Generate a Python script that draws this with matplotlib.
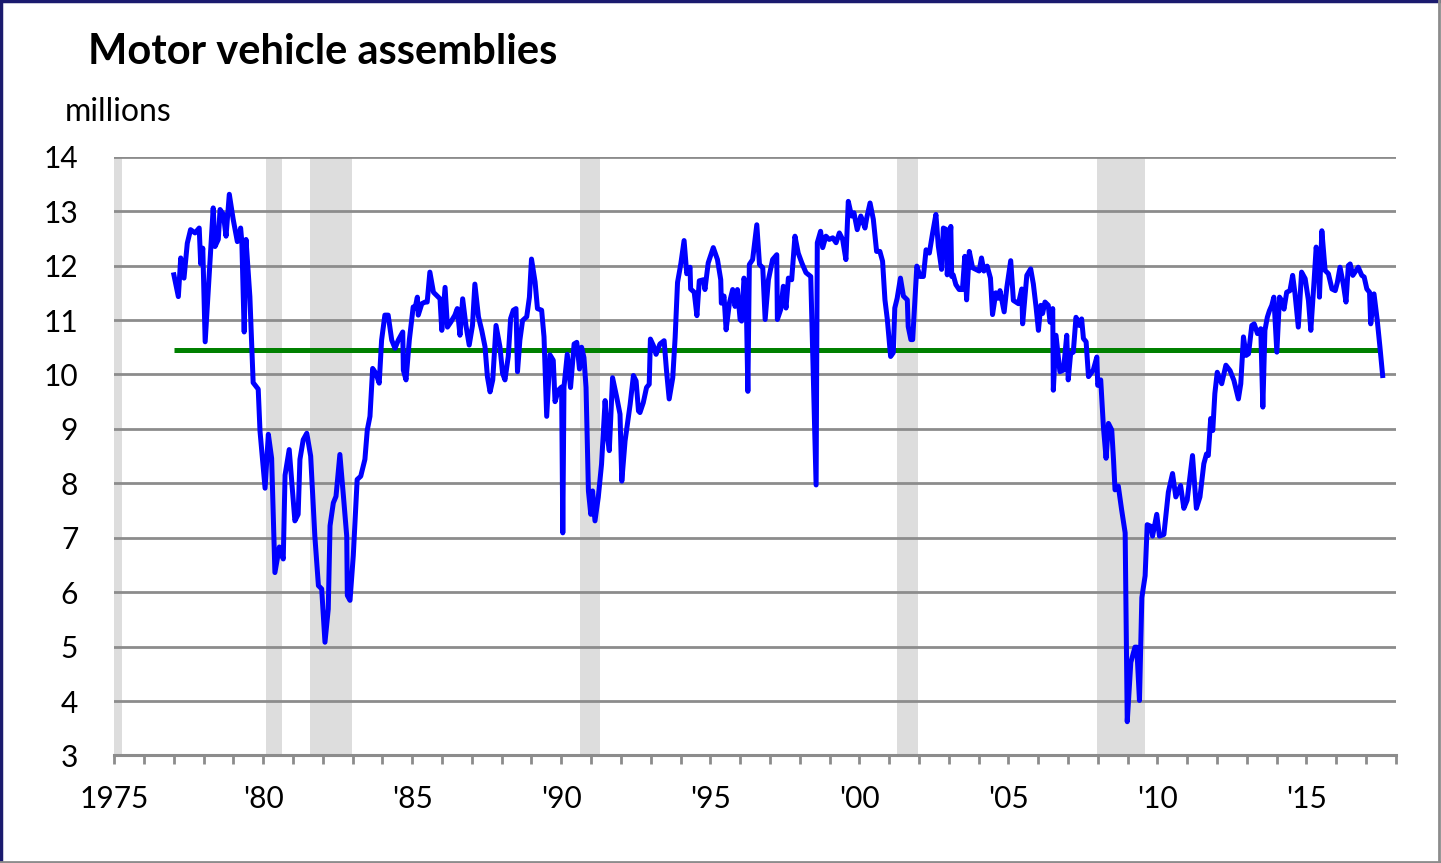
import matplotlib
matplotlib.use('agg')
import matplotlib.pyplot as plt
from matplotlib.lines import Line2D

plt.rcParams['font.family'] = ['Lato', 'DejaVu Sans']

# motor vehicle assemblies, millions (annual rate)
years = [
    1977.00, 1977.15, 1977.23, 1977.34, 1977.45, 1977.56, 1977.71, 1977.85, 1977.90, 1977.97,
    1978.05, 1978.32, 1978.38, 1978.49, 1978.55, 1978.66, 1978.75, 1978.86, 1978.99, 1979.13,
    1979.24, 1979.28, 1979.36, 1979.42, 1979.55, 1979.66, 1979.83, 1979.89, 1980.06, 1980.17,
    1980.28, 1980.39, 1980.54, 1980.67, 1980.73, 1980.87,
    1981.06, 1981.17, 1981.23, 1981.34, 1981.46, 1981.59, 1981.73, 1981.85, 1981.96, 1982.07,
    1982.18, 1982.24, 1982.35, 1982.44, 1982.57, 1982.69, 1982.80, 1982.82, 1982.91, 1983.02,
    1983.15, 1983.27, 1983.41, 1983.49, 1983.58, 1983.67, 1983.78, 1983.89, 1983.97, 1984.08,
    1984.19, 1984.31, 1984.42, 1984.53, 1984.68, 1984.70, 1984.79, 1984.90, 1985.03, 1985.09,
    1985.17, 1985.20, 1985.32, 1985.43, 1985.50,
    1985.59, 1985.71, 1985.82, 1985.93, 1985.99, 1986.10, 1986.18, 1986.29, 1986.43, 1986.51,
    1986.60, 1986.69, 1986.80, 1986.91, 1987.02, 1987.10, 1987.22, 1987.33, 1987.44, 1987.52,
    1987.61, 1987.70, 1987.81, 1987.94, 1988.03, 1988.11, 1988.22, 1988.30, 1988.39, 1988.48,
    1988.53, 1988.61, 1988.70, 1988.84, 1988.93, 1989.00, 1989.12, 1989.20, 1989.34, 1989.42,
    1989.51, 1989.62, 1989.73, 1989.79, 1989.90, 1990.01, 1990.05, 1990.09,
    1990.20, 1990.31, 1990.43, 1990.52, 1990.61, 1990.68, 1990.76, 1990.83, 1990.91, 1990.99,
    1991.05, 1991.13, 1991.24, 1991.35, 1991.47, 1991.55, 1991.61, 1991.72, 1991.86, 1991.97,
    1992.03, 1992.14, 1992.31, 1992.42, 1992.51, 1992.59, 1992.64, 1992.75, 1992.86, 1992.95,
    1992.99, 1993.09, 1993.18, 1993.31, 1993.45, 1993.53, 1993.62, 1993.74, 1993.82, 1993.90,
    1994.01, 1994.12, 1994.21, 1994.32, 1994.34, 1994.46, 1994.55, 1994.63,
    1994.77, 1994.82, 1994.93, 1995.10, 1995.24, 1995.35, 1995.37, 1995.46, 1995.53, 1995.64,
    1995.75, 1995.83, 1995.91, 1996.00, 1996.05, 1996.13, 1996.20, 1996.26, 1996.31, 1996.42,
    1996.56, 1996.65, 1996.76, 1996.84, 1996.95, 1997.09, 1997.23, 1997.25, 1997.36, 1997.45,
    1997.54, 1997.62, 1997.73, 1997.84, 1997.95, 1998.07, 1998.21, 1998.37, 1998.55, 1998.59,
    1998.70, 1998.77, 1998.88, 1998.99, 1999.11, 1999.22, 1999.33, 1999.44, 1999.55, 1999.63,
    1999.74, 1999.82, 1999.93, 2000.05, 2000.11, 2000.19, 2000.25, 2000.36,
    2000.47, 2000.58, 2000.69, 2000.78, 2000.86, 2000.94, 2001.05, 2001.14, 2001.19, 2001.27,
    2001.38, 2001.48, 2001.61, 2001.64, 2001.73, 2001.79, 2001.93, 2002.04, 2002.15, 2002.24,
    2002.35, 2002.46, 2002.57, 2002.65, 2002.76, 2002.82, 2002.93, 2002.95, 2003.07, 2003.10,
    2003.15, 2003.24, 2003.35, 2003.46, 2003.54, 2003.60, 2003.69, 2003.80, 2003.91, 2004.02,
    2004.10, 2004.18, 2004.29, 2004.40, 2004.47, 2004.58, 2004.66,
    2004.72, 2004.86, 2004.95, 2005.08, 2005.17, 2005.34, 2005.45, 2005.48, 2005.62, 2005.75,
    2005.84, 2005.93, 2006.01, 2006.09, 2006.15, 2006.23, 2006.34, 2006.40, 2006.49, 2006.51,
    2006.60, 2006.73, 2006.85, 2006.96, 2007.01, 2007.09, 2007.18, 2007.27, 2007.38, 2007.46,
    2007.52, 2007.61, 2007.69, 2007.85, 2007.97, 2008.00, 2008.10, 2008.19, 2008.28, 2008.36,
    2008.47, 2008.53, 2008.58, 2008.69, 2008.80, 2008.92, 2008.99, 2009.11, 2009.25, 2009.31,
    2009.40, 2009.48, 2009.59, 2009.66, 2009.78, 2009.84, 2009.98, 2010.07, 2010.22,
    2010.37, 2010.51, 2010.62, 2010.78, 2010.89, 2011.00, 2011.18, 2011.31, 2011.43, 2011.56,
    2011.65, 2011.71, 2011.79, 2011.86, 2011.93, 2012.01, 2012.16, 2012.30, 2012.44, 2012.57,
    2012.72, 2012.80, 2012.89, 2012.98, 2013.06, 2013.17, 2013.25, 2013.36, 2013.47, 2013.54,
    2013.61, 2013.69, 2013.76, 2013.84, 2013.91, 2014.01, 2014.10, 2014.17, 2014.25, 2014.34,
    2014.45, 2014.54, 2014.62, 2014.73, 2014.84, 2014.96, 2015.07, 2015.15, 2015.26, 2015.33,
    2015.41, 2015.44, 2015.52, 2015.63, 2015.74, 2015.86, 2015.97, 2016.04, 2016.13, 2016.24,
    2016.33, 2016.41, 2016.47, 2016.56, 2016.67, 2016.74, 2016.86, 2016.94, 2017.03, 2017.12,
    2017.16, 2017.27, 2017.38, 2017.47, 2017.56,
]
units = [
    11.83, 11.43, 12.14, 11.77, 12.41, 12.66, 12.60, 12.69, 12.03, 12.32,
    10.60, 13.06, 12.35, 12.48, 13.03, 12.94, 12.54, 13.31, 12.85, 12.44,
    12.69, 12.44, 10.78, 12.48, 11.43, 9.85, 9.73, 8.96, 7.91, 8.90,
    8.46, 6.36, 6.83, 6.61, 8.15, 8.62,
    7.31, 7.43, 8.44, 8.80, 8.92, 8.50, 7.03, 6.12, 6.06, 5.08,
    5.69, 7.22, 7.64, 7.76, 8.53, 7.76, 7.03, 5.94, 5.85, 6.67,
    8.07, 8.13, 8.44, 8.98, 9.23, 10.11, 10.02, 9.84, 10.63, 11.09,
    11.09, 10.63, 10.48, 10.63, 10.78, 10.08, 9.90, 10.63, 11.24, 11.21,
    11.42, 11.09, 11.30, 11.33, 11.33,
    11.88, 11.51, 11.45, 11.39, 10.81, 11.60, 10.87, 10.96, 11.09, 11.21,
    10.72, 11.39, 10.90, 10.54, 10.90, 11.66, 11.06, 10.81, 10.51, 9.96,
    9.68, 9.90, 10.90, 10.51, 10.02, 9.90, 10.33, 11.03, 11.18, 11.21,
    10.05, 10.63, 10.99, 11.06, 11.42, 12.12, 11.70, 11.21, 11.18, 10.69,
    9.23, 10.36, 10.26, 9.50, 9.71, 9.77, 7.09, 9.77,
    10.37, 9.76, 10.56, 10.59, 10.10, 10.50, 10.31, 9.76, 7.86, 7.43,
    7.86, 7.31, 7.74, 8.35, 9.52, 8.84, 8.60, 9.94, 9.58, 9.27,
    8.04, 8.78, 9.45, 9.98, 9.88, 9.33, 9.30, 9.48, 9.76, 9.82,
    10.65, 10.53, 10.37, 10.56, 10.62, 10.07, 9.55, 9.94, 10.68, 11.69,
    12.03, 12.46, 11.85, 11.97, 11.57, 11.51, 11.08, 11.72,
    11.74, 11.56, 12.05, 12.33, 12.11, 11.74, 11.31, 11.44, 10.82, 11.31,
    11.56, 11.25, 11.56, 11.01, 10.98, 11.77, 11.56, 9.69, 12.02, 12.11,
    12.75, 12.02, 11.96, 11.01, 11.74, 12.11, 12.20, 11.01, 11.19, 11.62,
    11.22, 11.77, 11.74, 12.54, 12.23, 12.05, 11.87, 11.80, 7.97, 12.42,
    12.63, 12.33, 12.54, 12.48, 12.51, 12.42, 12.60, 12.48, 12.11, 13.18,
    12.91, 12.97, 12.66, 12.91, 12.82, 12.69, 12.88, 13.15,
    12.85, 12.26, 12.26, 12.08, 11.37, 11.01, 10.33, 10.40, 11.22, 11.40,
    11.77, 11.44, 11.37, 10.88, 10.64, 10.64, 11.99, 11.80, 11.80, 12.29,
    12.23, 12.60, 12.94, 12.36, 11.93, 12.69, 12.66, 11.83, 12.72, 11.80,
    11.83, 11.65, 11.56, 11.56, 12.17, 11.37, 12.26, 11.96, 11.93, 11.90,
    12.14, 11.90, 11.99, 11.77, 11.10, 11.50, 11.40,
    11.54, 11.15, 11.60, 12.09, 11.36, 11.30, 11.57, 10.93, 11.82, 11.94,
    11.66, 11.24, 10.81, 11.27, 11.12, 11.33, 11.27, 10.96, 11.21, 9.71,
    10.72, 10.05, 10.08, 10.72, 9.90, 10.38, 10.41, 11.05, 10.90, 11.02,
    10.66, 10.60, 9.96, 10.08, 10.32, 9.80, 9.90, 9.04, 8.46, 9.10,
    8.98, 8.43, 7.88, 7.95, 7.52, 7.09, 3.62, 4.71, 4.99, 4.99,
    4.01, 5.90, 6.30, 7.24, 7.21, 7.03, 7.43, 7.03, 7.06,
    7.84, 8.18, 7.75, 7.96, 7.54, 7.69, 8.51, 7.54, 7.75, 8.36,
    8.54, 8.51, 9.19, 8.97, 9.65, 10.04, 9.83, 10.17, 10.07, 9.89,
    9.55, 9.83, 10.69, 10.35, 10.38, 10.90, 10.93, 10.75, 10.84, 9.40,
    10.81, 11.05, 11.17, 11.27, 11.42, 10.41, 11.42, 11.36, 11.20, 11.51,
    11.54, 11.82, 11.48, 10.87, 11.88, 11.76, 11.36, 10.81, 11.72, 12.34,
    11.97, 11.42, 12.64, 11.91, 11.85, 11.57, 11.54, 11.69, 11.97, 11.66,
    11.33, 12.00, 12.03, 11.82, 11.91, 11.97, 11.82, 11.79, 11.57, 11.51,
    10.93, 11.48, 10.99, 10.50, 9.98,
]

avg_level = 10.44
avg_span = (1977.0, 2017.42)

# recessions (start, end)
recessions = [(1975.0, 1975.25), (1980.08, 1980.63), (1981.58, 1982.98),
              (1990.63, 1991.30), (2001.28, 2001.96), (2007.99, 2009.60)]

tick_years = list(range(1975, 2019))
tick_labels = ['1975' if y == 1975 else ("'%02d" % (y % 100) if y % 5 == 0 else '')
               for y in tick_years]

GRID = '#8c8c8c'

fig = plt.figure(figsize=(14.41, 8.63), dpi=100)
ax = fig.add_axes([0.0793, 0.1246, 0.8893, 0.6938])

for start, end in recessions:
    ax.axvspan(start, end, color='#dddddd', lw=0, zorder=0.2)

ax.plot(avg_span, [avg_level, avg_level], color='#008000', lw=3.6,
        solid_capstyle='butt', zorder=3)
ax.plot(years, units, color='#0000ff', lw=3.6, solid_joinstyle='round', zorder=4)

ax.set_xlim(1975, 2018)
ax.set_ylim(3, 14)
ax.set_yticks(range(3, 15))
ax.set_xticks(tick_years)
ax.set_xticklabels(tick_labels)

ax.set_axisbelow(True)
ax.yaxis.grid(True, color=GRID, lw=2.0)
ax.xaxis.grid(False)
for side in ['left', 'top', 'right']:
    ax.spines[side].set_visible(False)
ax.spines['bottom'].set_color(GRID)
ax.spines['bottom'].set_linewidth(2.2)

ax.tick_params(axis='y', length=0, pad=26, labelsize=21.5)
ax.tick_params(axis='x', length=6.5, width=2, color=GRID, direction='out',
               pad=15, labelsize=21.5)

fig.text(0.061, 0.926, 'Motor vehicle assemblies', fontsize=30,
         fontweight='bold', va='baseline', ha='left')
fig.text(0.045, 0.860, 'millions', fontsize=23, va='baseline', ha='left')

# chart frame
fig.add_artist(Line2D([0.001, 0.001], [0, 1], color='#1a1a6e', lw=2.5, transform=fig.transFigure))
fig.add_artist(Line2D([0, 1], [0.999, 0.999], color='#1a1a6e', lw=2.5, transform=fig.transFigure))
fig.add_artist(Line2D([0.9988, 0.9988], [0, 1], color='#8c8c8c', lw=2.0, transform=fig.transFigure))
fig.add_artist(Line2D([0, 1], [0.001, 0.001], color='#8c8c8c', lw=2.0, transform=fig.transFigure))

fig.savefig('out.png', dpi=100)
